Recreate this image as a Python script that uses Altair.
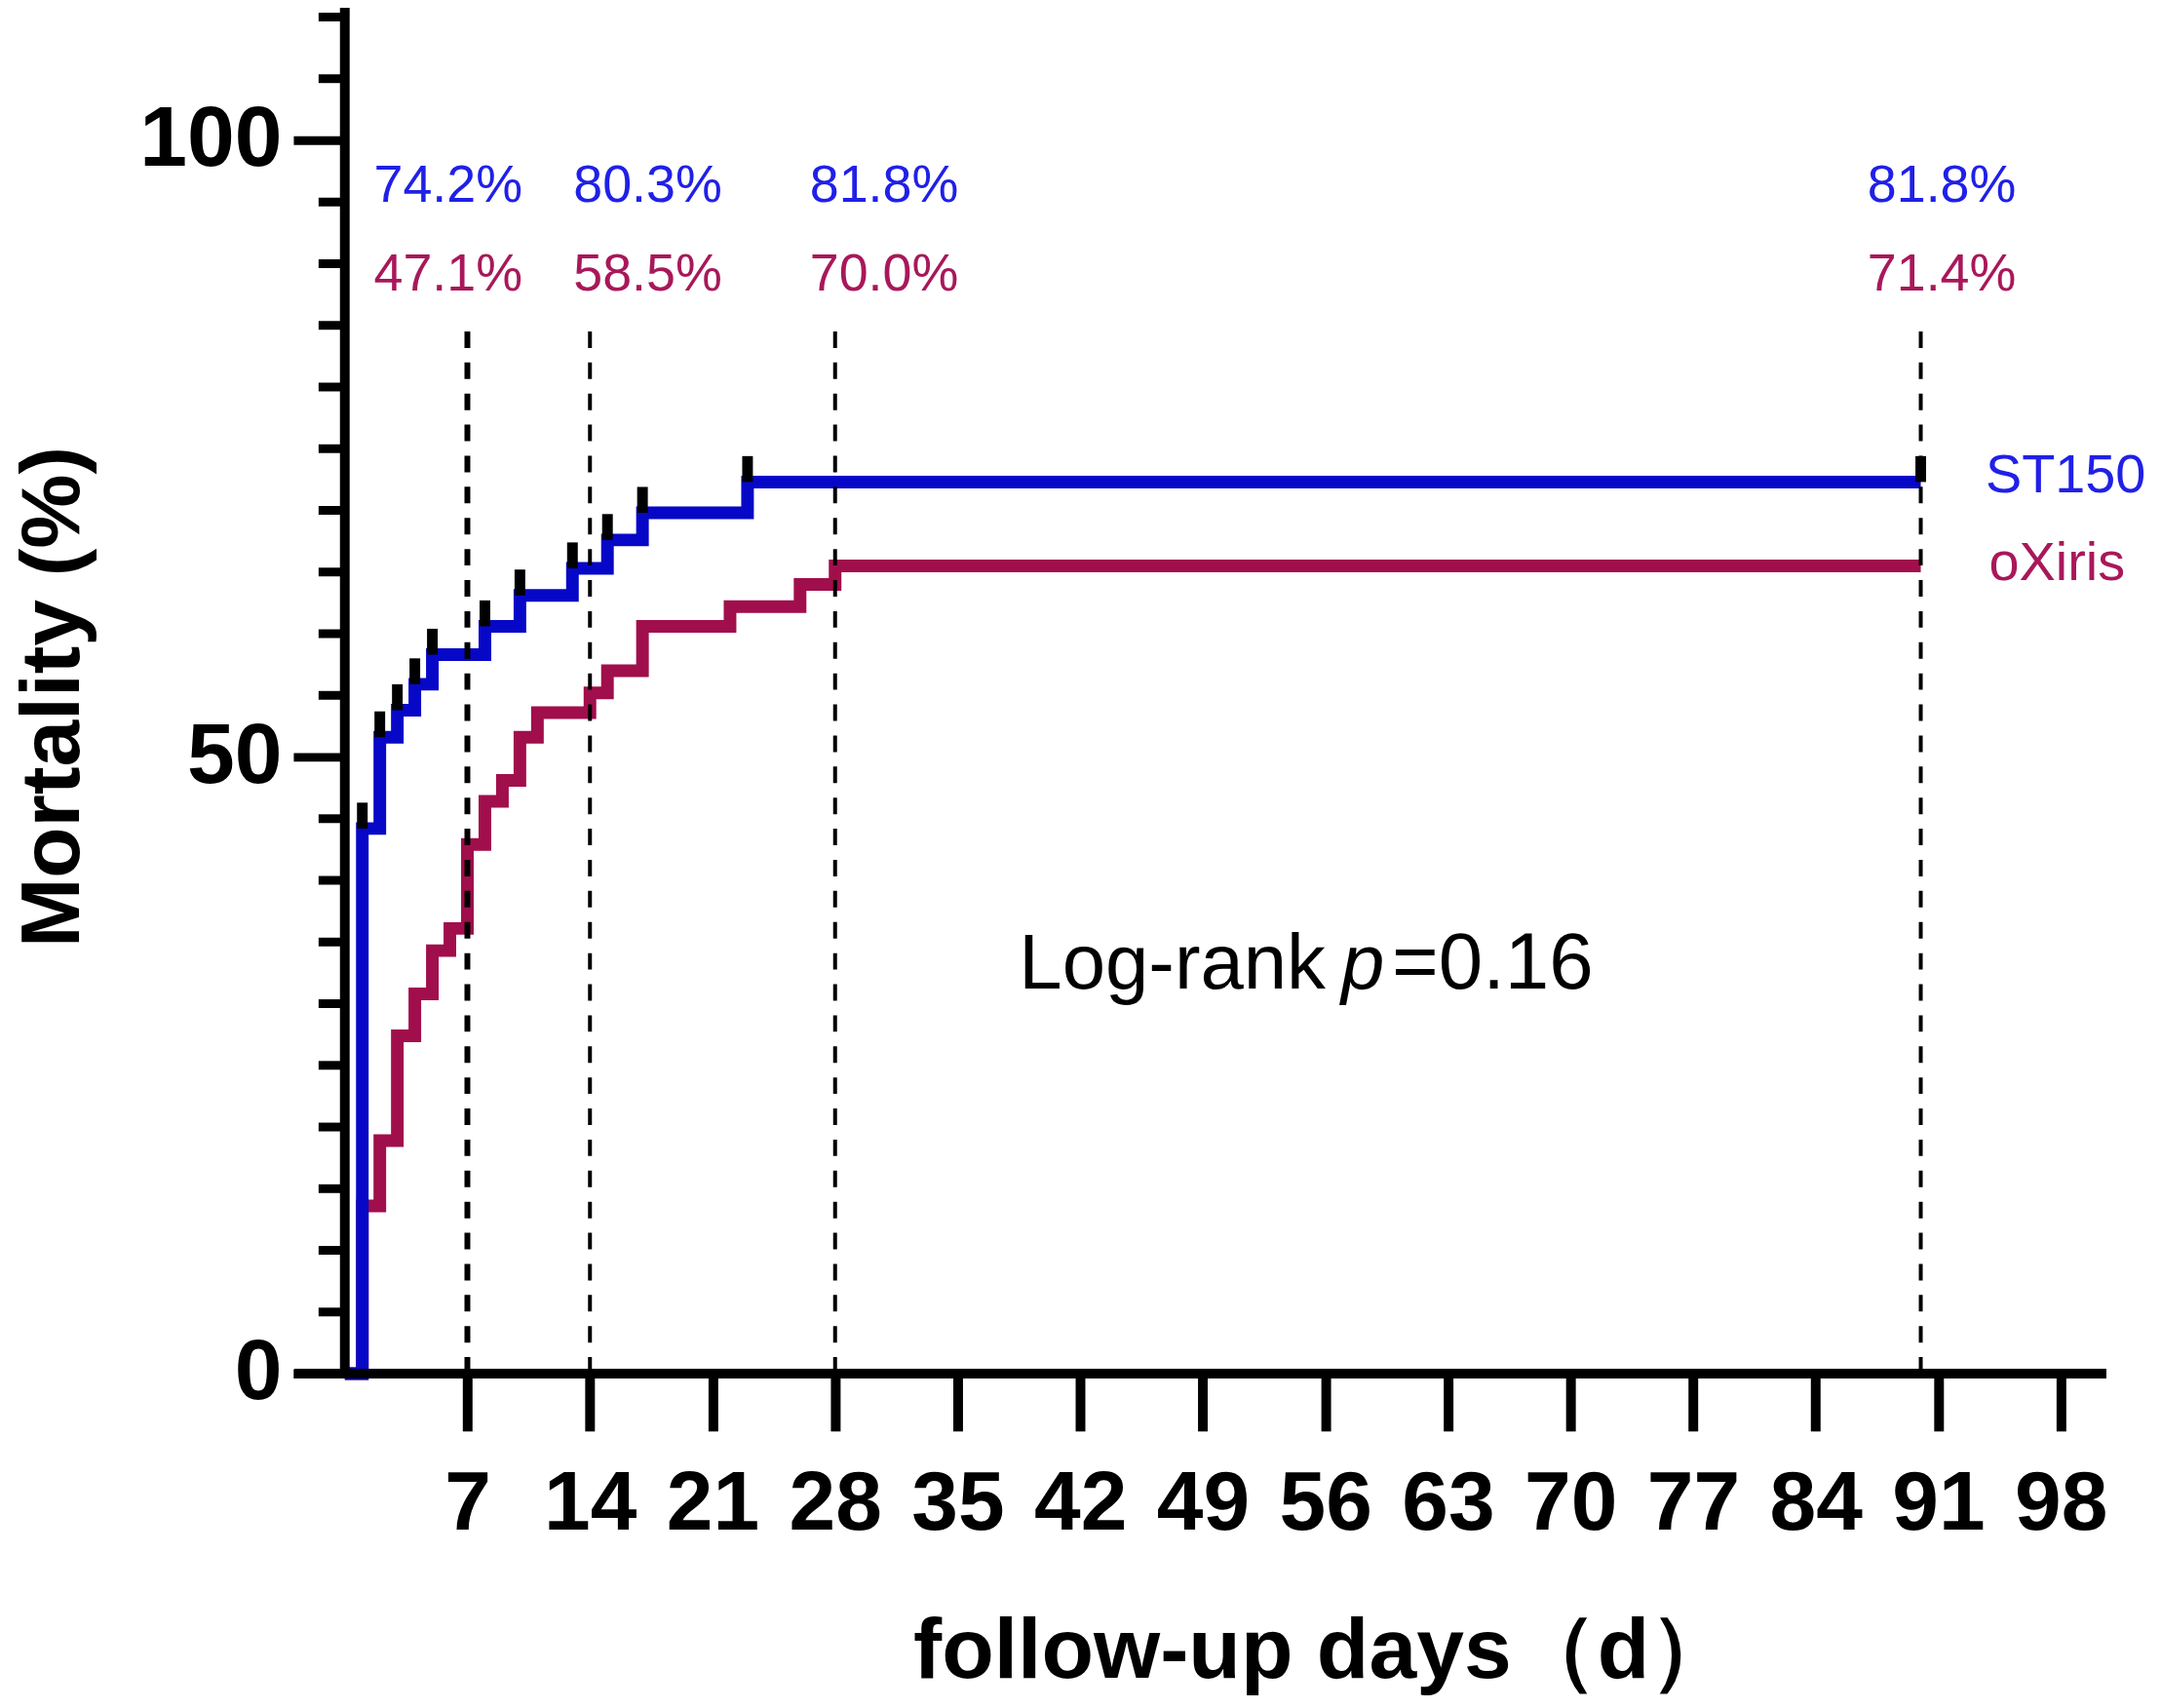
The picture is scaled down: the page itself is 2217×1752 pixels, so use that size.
import altair as alt
import pandas as pd

# ---- data ----
blue_days = [0, 1, 2, 3, 4, 5, 8, 10, 13, 15, 17, 23, 90]
blue_vals = [0, 44.2, 51.6, 53.8, 55.9, 58.3, 60.6, 63.1, 65.3, 67.6, 69.8, 72.3, 72.3]
red_days = [0, 1, 2, 3, 4, 5, 6, 7, 8, 9, 10, 11, 14, 15, 17, 22, 26, 28, 90]
red_vals = [0, 13.6, 18.9, 27.4, 30.8, 34.3, 36.1, 42.9, 46.4, 48.1, 51.6, 53.6,
            55.2, 57.0, 60.6, 62.2, 64.0, 65.5, 65.5]
censor_days = [1, 2, 3, 4, 5, 8, 10, 13, 15, 17, 23, 90]
censor_vals = [44.2, 51.6, 53.8, 55.9, 58.3, 60.6, 63.1, 65.3, 67.6, 69.8, 72.3, 72.3]

ref_days = [7, 14, 28, 90]
ref_widths = [6, 4, 4, 4]
ref_top = 84.7

ann_x = [5.9, 17.3, 30.8, 91.2]
blue_ann = ["74.2%", "80.3%", "81.8%", "81.8%"]
red_ann = ["47.1%", "58.5%", "70.0%", "71.4%"]
blue_ann_y = 96.3
red_ann_y = 89.1

x_ticks = [7, 14, 21, 28, 35, 42, 49, 56, 63, 70, 77, 84, 91, 98]
y_major = [0, 50, 100]
y_minor = [v for v in range(5, 115, 5) if v not in (50, 100)]

BLUE = "#0707C8"
BLUE_TXT = "#2020E8"
RED = "#A10E4C"
RED_TXT = "#A8185A"
FONT = "Liberation Sans"

xs = alt.Scale(domain=[0, 101], nice=False, zero=False)
ys = alt.Scale(domain=[0, 110.5], nice=False, zero=False)

blue_df = pd.DataFrame({"x": blue_days, "y": blue_vals})
red_df = pd.DataFrame({"x": red_days, "y": red_vals})
cens_df = pd.DataFrame({"x": censor_days, "y": censor_vals,
                        "y2": [v + 2.1 for v in censor_vals]})
ref_df = pd.DataFrame({"x": ref_days, "y": [0] * 4, "y2": [ref_top] * 4, "w": ref_widths})
ann_df = pd.DataFrame({
    "x": ann_x * 2,
    "y": [blue_ann_y] * 4 + [red_ann_y] * 4,
    "t": blue_ann + red_ann,
    "c": [BLUE_TXT] * 4 + [RED_TXT] * 4,
})
end_df = pd.DataFrame({"x": [93.7, 93.9], "y": [72.8, 65.7], "t": ["ST150", "oXiris"],
                       "c": [BLUE_TXT, RED_TXT]})
minor_df = pd.DataFrame({"y": y_minor})
xaxis_df = pd.DataFrame({"x": [-2.9], "x2": [100.6], "y": [0]})
yaxis_df = pd.DataFrame({"x": [0], "y": [0], "y2": [110.8]})

x_axis = alt.Axis(
    values=x_ticks, title="follow-up days（d）", domain=False, grid=False,
    tickSize=59, tickWidth=10, tickColor="black", tickCap="butt",
    labelFont=FONT, labelFontWeight="bold", labelFontSize=86, labelColor="black",
    labelPadding=33, labelOverlap=False, labelFlush=False,
    titleFont=FONT, titleFontWeight="bold", titleFontSize=88, titleColor="black",
    titleX=1008, titleY=313, titleAlign="center", titleBaseline="alphabetic",
)
y_axis = alt.Axis(
    values=y_major, title="Mortality (%)", domain=False, grid=False,
    tickSize=53, tickWidth=9, tickColor="black", tickCap="butt",
    labelFont=FONT, labelFontWeight="bold", labelFontSize=88, labelColor="black",
    labelPadding=12, labelOverlap=False, labelFlush=False,
    titleFont=FONT, titleFontWeight="bold", titleFontSize=86, titleColor="black",
    titleAngle=270, titleX=-274, titleY=706, titleAlign="center", titleBaseline="alphabetic",
)


def X(f="x"):
    return alt.X(f"{f}:Q", scale=xs, axis=x_axis)


def Y(f="y"):
    return alt.Y(f"{f}:Q", scale=ys, axis=y_axis)


red_line = alt.Chart(red_df).mark_line(
    interpolate="step-after", strokeWidth=13, color=RED, strokeCap="butt"
).encode(x=X(), y=Y())

blue_line = alt.Chart(blue_df).mark_line(
    interpolate="step-after", strokeWidth=13, color=BLUE, strokeCap="butt"
).encode(x=X(), y=Y())

censor = alt.Chart(cens_df).mark_rule(color="black", strokeWidth=11).encode(
    x=X(), y=Y(), y2="y2:Q")

refs = alt.Chart(ref_df).mark_rule(color="black", strokeDash=[17, 15]).encode(
    x=X(), y=Y(), y2="y2:Q",
    strokeWidth=alt.StrokeWidth("w:Q", scale=None))

ann = alt.Chart(ann_df).mark_text(font=FONT, fontSize=54, align="center", baseline="middle").encode(
    x=X(), y=Y(), text="t:N", color=alt.Color("c:N", scale=None))

ends = alt.Chart(end_df).mark_text(font=FONT, fontSize=56, align="left", baseline="middle").encode(
    x=X(), y=Y(), text="t:N", color=alt.Color("c:N", scale=None))

lr_df = pd.DataFrame({"x": [38.5], "y": [31.2], "t": ["Log-rank"]})
p_df = pd.DataFrame({"x": [56.9], "y": [31.2], "t": ["p"]})
pv_df = pd.DataFrame({"x": [59.8], "y": [31.2], "t": ["=0.16"]})
lr = alt.Chart(lr_df).mark_text(font=FONT, fontSize=80, align="left", baseline="alphabetic",
                                color="black").encode(x=X(), y=Y(), text="t:N")
pp = alt.Chart(p_df).mark_text(font=FONT, fontSize=80, fontStyle="italic", align="left",
                               baseline="alphabetic", color="black").encode(x=X(), y=Y(), text="t:N")
pv = alt.Chart(pv_df).mark_text(font=FONT, fontSize=82, align="left", baseline="alphabetic",
                                color="black").encode(x=X(), y=Y(), text="t:N")

minor = alt.Chart(minor_df).mark_rule(color="black", strokeWidth=9).encode(
    y=Y(), x=alt.value(-27), x2=alt.value(0))

xaxis_line = alt.Chart(xaxis_df).mark_rule(color="black", strokeWidth=10).encode(
    x=X(), x2="x2:Q", y=Y())
yaxis_line = alt.Chart(yaxis_df).mark_rule(color="black", strokeWidth=10).encode(
    x=X(), y=Y(), y2="y2:Q")

chart = alt.layer(
    red_line, blue_line, censor, refs, ann, ends, lr, pp, pv, minor, xaxis_line, yaxis_line
).properties(
    width=1821, height=1403,
    autosize=alt.AutoSizeParams(type="none"),
    padding={"left": 347, "top": 0, "right": 41, "bottom": 333},
    background="white",
).configure_view(stroke=None)

chart.save("out.html", embed_options={"renderer": "svg", "actions": False})
